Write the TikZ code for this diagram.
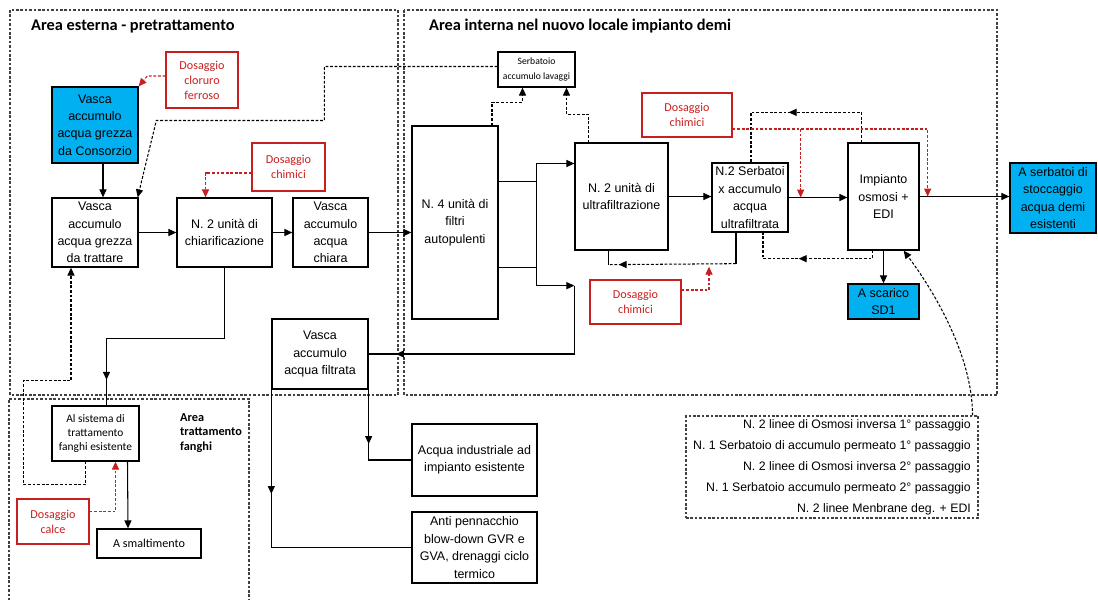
\documentclass[tikz,border=0pt]{standalone}
\usepackage{fontspec}
\setmainfont{Liberation Sans}
\newfontfamily\calibri{Carlito}
\usetikzlibrary{arrows.meta,calc,decorations.markings}
\definecolor{demiblue}{RGB}{0,176,240}
\definecolor{dosred}{RGB}{200,30,30}

\begin{document}
\begin{tikzpicture}[x=0.02cm,y=-0.02cm,
  >={Triangle[length=4.5pt,width=4pt]},
  line/.style={line width=0.6pt},
  arr/.style={line,->},
  dline/.style={line,dash pattern=on 1.6pt off 1pt},
  dlarr/.style={dline,->},
  dosarr/.style={line,draw=dosred,dash pattern=on 1.6pt off 1pt,->},
  midarrow/.style={postaction={decorate,decoration={markings,mark=at position #1 with {\arrow{>}}}}},
  area/.style={draw=black!75,line width=0.6pt,dash pattern=on 1.5pt off 1pt},
  sz/.style 2 args={minimum width=#1*0.02cm,minimum height=#2*0.02cm},
  box/.style={draw,line width=0.75pt,inner sep=0pt,align=center,font=\fontsize{7.1}{9.9}\selectfont},
  cyanbox/.style={box,fill=demiblue},
  calbox/.style={box,font=\calibri\fontsize{6.5}{7.9}\selectfont},
  dosbox/.style={box,draw=dosred,text=dosred,font=\calibri\fontsize{6.9}{8.5}\selectfont},
  title/.style={anchor=west,font=\calibri\bfseries\fontsize{9.3}{11}\selectfont}]
\useasboundingbox (0,0) rectangle (1098,599);

% Areas
\draw[area] (10,10) rectangle (398,395);
\draw[area] (404,10) rectangle (997,395);
\draw[area] (9,605) -- (9,399) -- (249,399) -- (249,605);
\node[title] (exttitle) at (25,26) {Area esterna - pretrattamento};
\node[title] (inttitle) at (423,26) {Area interna nel nuovo locale impianto demi};
\node[anchor=west,align=left,font=\calibri\bfseries\fontsize{7}{8.5}\selectfont] (fantitle) at (174,433) {Area\\trattamento\\fanghi};

% Pretreatment (left)
\node[cyanbox,sz={86}{76}] (cons) at (95,125) {Vasca\\accumulo\\acqua grezza\\da Consorzio};
\node[dosbox,sz={72}{56}] (clor) at (202,80) {Dosaggio\\cloruro\\ferroso};
\node[box,sz={86}{69}] (grez) at (95,232.5) {Vasca\\accumulo\\acqua grezza\\da trattare};
\node[box,sz={95}{69}] (chiar) at (224.5,232.5) {N. 2 unità di\\chiarificazione};
\node[box,sz={75}{69}] (chiara) at (330.5,232.5) {Vasca\\accumulo\\acqua\\chiara};
\node[dosbox,sz={73}{48}] (dosch1) at (288.5,167) {Dosaggio\\chimici};

% Demi plant (right)
\node[box,sz={86}{193}] (filt) at (455,222.5) {N. 4 unità di\\filtri\\autopulenti};
\node[calbox,sz={77}{35},font=\calibri\fontsize{5.5}{8.5}\selectfont] (lav) at (536.5,69.5) {Serbatoio\\accumulo lavaggi};
\node[box,sz={93}{107}] (uf) at (621.5,196.5) {N. 2 unità di\\ultrafiltrazione};
\node[box,sz={76}{69}] (serb) at (750,197.5) {N.2 Serbatoi\\x accumulo\\acqua\\ultrafiltrata};
\node[dosbox,sz={90}{44}] (dosch2) at (687,115) {Dosaggio\\chimici};
\node[box,sz={71}{107}] (osm) at (883.5,196.5) {Impianto\\osmosi +\\EDI};
\node[cyanbox,sz={71}{35}] (sd1) at (883.5,301.5) {A scarico\\SD1};
\node[cyanbox,sz={86}{70}] (stoc) at (1053,198) {A serbatoi di\\stoccaggio\\acqua demi\\esistenti};
\node[dosbox,sz={91}{44}] (dosch3) at (635.5,302) {Dosaggio\\chimici};

% Filtered water and users
\node[box,sz={96}{70}] (vfil) at (320,354) {Vasca\\accumulo\\acqua filtrata};
\node[box,sz={125}{72}] (ind) at (474.5,460) {Acqua industriale ad\\impianto esistente};
\node[box,sz={125}{71}] (anti) at (474.5,547.5) {Anti pennacchio\\blow-down GVR e\\GVA, drenaggi ciclo\\termico};

% Sludge area
\node[calbox,sz={87}{55}] (fang) at (95.5,433.5) {Al sistema di\\trattamento\\fanghi esistente};
\node[dosbox,sz={72}{45}] (calce) at (53,521.5) {Dosaggio\\calce};
\node[calbox,sz={104}{29},font=\calibri\fontsize{6.9}{8.5}\selectfont] (smalt) at (149,543.5) {A smaltimento};

% Legend
\node[box,area,sz={292}{102},align=right,font=\fontsize{7}{11.9}\selectfont] (leg) at (832,467)
  {N. 2 linee di Osmosi inversa 1° passaggio\\
   N. 1 Serbatoio di accumulo permeato 1° passaggio\\
   N. 2 linee di Osmosi inversa 2° passaggio\\
   N. 1 Serbatoio accumulo permeato 2° passaggio\\
   N. 2 linee Menbrane deg. + EDI};

% Main flow
\draw[arr] ($(cons.south)+(8,0)$) -- ($(grez.north)+(8,0)$);
\draw[arr] (grez) -- (chiar);
\draw[arr] (chiar) -- (chiara);
\draw[arr] (chiara.east) -- (chiara.east -| filt.west);
\draw[arr] ($(filt.east)+(0,-41)$) -- ++(38,0) |- ($(uf.west)+(0,-33)$);
\draw[line] ($(filt.east)+(0,45)$) -- ++(38,0);
\draw[arr] ($(filt.east)+(38,-41)$) |- ($(uf.south west)+(0,35)$);
\draw[line,midarrow=0.9] ($(uf.south west)+(0,35)$) |- (vfil.east);
\draw[arr] (uf.east) -- (uf.east -| serb.west);
\draw[arr] (serb.east) -- (serb.east -| osm.west);
\draw[arr] (osm.east) -- (osm.east -| stoc.west);
\draw[arr] (osm) -- (sd1);
\draw[line,midarrow=0.48] (vfil.south east) |- (ind.west);
\draw[line,midarrow=0.35] (vfil.south west) |- (anti.west);

% Sludge lines
\draw[line,midarrow=0.9] (chiar.south) -- ++(0,71) -| ($(fang.north)+(11,0)$);
\draw[arr] ($(fang.south)+(32,0)$) -- ($(smalt.north)+(-21,0)$);
\draw[dlarr] ($(fang.south)+(-10,0)$) -- ++(0,23) -- ++(-62,0) -- ++(0,-104) -| ($(grez.south)+(-24,0)$);

% Backwash and recirculation
\draw[dlarr] ($(lav.west)+(0,-3)$) -- ++(-173,0) -- ++(0,54) -- ++(-168,0) -- ($(grez.north east)+(-1,0)$);
\draw[dlarr] ($(filt.north)+(37,0)$) -- ++(0,-23) -| ($(lav.south)+(-14,0)$);
\draw[dlarr] ($(uf.north)+(-33,0)$) -- ++(0,-28) -| ($(lav.south)+(30,0)$);
\draw[line] ($(serb.south)+(-14,0)$) -- ++(0,31) coordinate (ret1);
\draw[line] ($(uf.south)+(-13,0)$) -- ++(0,14) coordinate (ret2);
\draw[dline,midarrow=0.92] (ret1) -- (ret2);
\draw[dline,midarrow=0.57] ($(osm.south)+(-11,0)$) -- ++(0,8) -| ($(serb.south)+(13,0)$);
\draw[dline,midarrow=0.54] ($(osm.north)+(-22,0)$) -- ++(0,-30) -| ($(serb.north)+(1,0)$);
\draw[dlarr] ($(leg.north east)+(-6,0)$) .. controls +(0,-60) and +(30,40) .. ($(osm.south east)+(-16,0)$);

% Chemical dosing
\draw[dosarr] ($(clor.west)+(0,-4)$) -- ++(-18,0) -- (cons.north east);
\draw[dosarr] ($(dosch1.west)+(0,6)$) -| ($(chiar.north)+(-19,0)$);
\draw[dosarr] ($(dosch2.east)+(0,14)$) -| ($(osm.east)+(8,0)$);
\draw[dosarr] ($(dosch2.east)+(68,14)$) -- ($(serb.east)+(12,0)$);
\draw[dosarr] ($(dosch3.east)+(0,-12)$) -| ($(serb.south)+(-41,34)$);
\draw[dosarr] ($(calce.east)+(0,-10)$) -| ($(fang.south)+(20,0)$);

\end{tikzpicture}
\end{document}
